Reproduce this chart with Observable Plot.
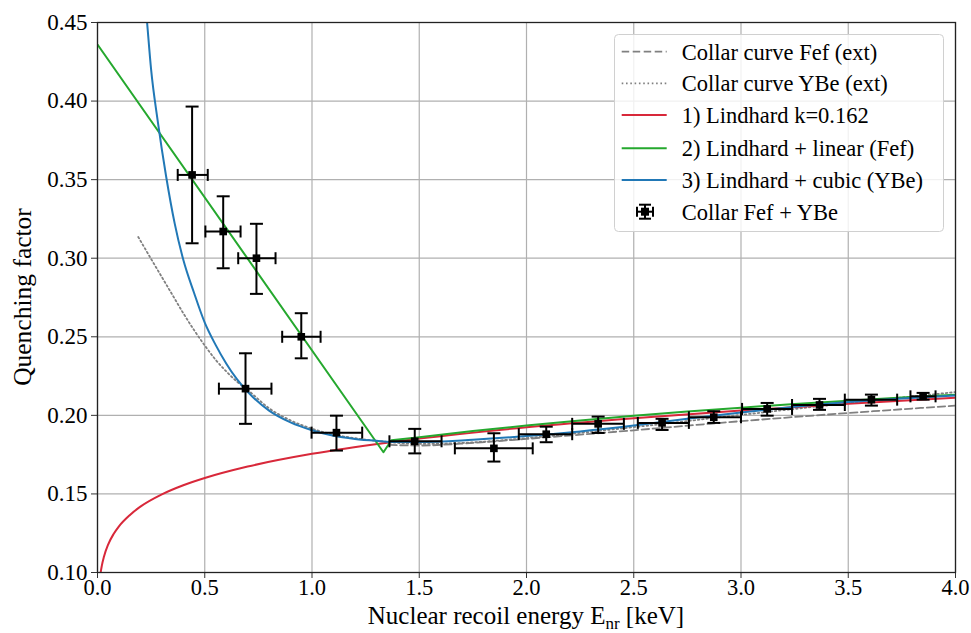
<!DOCTYPE html>
<html><head><meta charset="utf-8">
<script src="https://cdn.jsdelivr.net/npm/d3@7"></script>
<script src="https://cdn.jsdelivr.net/npm/@observablehq/plot@0.6"></script>
<style>
body{margin:0;background:#fff;}
#wrap{position:relative;width:971px;height:633px;}
#legend{position:absolute;left:614px;top:34px;}
#wrap text, #wrap svg{font-family:"Liberation Serif","Times New Roman","DejaVu Serif",serif !important;}
</style></head>
<body><div id="wrap"></div>
<script>
// ---- data ----
const xTicks = [0, 0.5, 1, 1.5, 2, 2.5, 3, 3.5, 4];
const yTicks = [0.10, 0.15, 0.20, 0.25, 0.30, 0.35, 0.40, 0.45];

// 1) Lindhard k=0.162
const lindE = [0.01,0.015,0.02,0.03,0.05,0.075,0.1,0.15,0.2,0.3,0.4,0.5,0.7,1.0,1.35,1.5,2.0,2.5,3.0,3.5,4.0];
const lindQ = [0.0946,0.1002,0.1042,0.1100,0.1179,0.1245,0.1294,0.1365,0.1419,0.1497,0.1555,0.1601,0.1674,0.1755,0.1826,0.1852,0.1924,0.1982,0.2031,0.2074,0.2112];

// 2) Lindhard + linear (Fef)
const linE = [0,1.333,1.37,1.5,1.75,2.0,2.25,2.5,2.75,3.0,3.25,3.5,3.75,4.0];
const linQ = [0.436,0.1765,0.1842,0.186,0.190,0.1935,0.1968,0.1998,0.2025,0.2049,0.2072,0.2093,0.2113,0.2132];

// 3) Lindhard + cubic (YBe)
const cubE = [0.22,0.23,0.25,0.28,0.32,0.36,0.40,0.45,0.50,0.55,0.60,0.65,0.70,0.80,0.90,1.0,1.1,1.2,1.3,1.4,1.5,1.75,2.0,2.25,2.5,2.75,3.0,3.25,3.5,3.75,4.0];
const cubQ = [0.468,0.452,0.420,0.388,0.352,0.322,0.299,0.278,0.259,0.245,0.233,0.223,0.215,0.203,0.1955,0.1905,0.187,0.185,0.1838,0.1830,0.1830,0.1845,0.1868,0.1898,0.1935,0.1978,0.2018,0.2055,0.2085,0.2108,0.2126];

// Collar curve Fef (ext)
const fefE = [1.36,1.5,1.75,2.0,2.5,3.0,3.5,4.0];
const fefQ = [0.1812,0.1808,0.1825,0.185,0.1905,0.1963,0.2015,0.2062];

// Collar curve YBe (ext)
const ybeE = [0.19,0.25,0.3,0.35,0.4,0.45,0.5,0.55,0.6,0.65,0.7,0.8,0.9,1.0,1.1,1.2,1.3,1.4,1.5,1.75,2.0,2.5,3.0,3.5,4.0];
const ybeQ = [0.3135,0.2995,0.288,0.2765,0.265,0.2543,0.2445,0.2355,0.228,0.2215,0.2162,0.2045,0.1968,0.1915,0.1878,0.1855,0.1838,0.1825,0.1818,0.1828,0.1855,0.1925,0.2003,0.2078,0.2148];

// Collar Fef + YBe data
const ptE   = [0.441,0.586,0.741,0.950,0.690,1.114,1.479,1.848,2.092,2.334,2.632,2.873,3.122,3.366,3.608,3.849];
const ptQ   = [0.353,0.317,0.300,0.250,0.217,0.189,0.1835,0.179,0.188,0.1946,0.1952,0.1988,0.2041,0.2066,0.2100,0.2121];
const ptQlo = [0.3095,0.2936,0.2773,0.2363,0.1946,0.1776,0.1758,0.1706,0.1829,0.1888,0.1907,0.1952,0.1998,0.2035,0.2062,0.2100];
const ptQhi = [0.3965,0.3394,0.3219,0.2650,0.2395,0.1998,0.1914,0.1886,0.1928,0.1992,0.1978,0.2026,0.2079,0.2105,0.2132,0.2143];
const ptElo = [0.374,0.503,0.656,0.861,0.566,0.998,1.361,1.666,1.964,2.213,2.519,2.757,3.005,3.238,3.484,3.790];
const ptEhi = [0.514,0.667,0.830,1.040,0.811,1.234,1.604,2.029,2.213,2.454,2.757,3.000,3.238,3.484,3.728,3.907];

const legendLabels = ["Collar curve Fef (ext)","Collar curve YBe (ext)","1) Lindhard k=0.162","2) Lindhard + linear (Fef)","3) Lindhard + cubic (YBe)","Collar Fef + YBe"];

// ---- build tables ----
const zip = (xs, ys) => xs.map((x, i) => ({x, y: ys[i]}));
const lind = zip(lindE, lindQ), lin = zip(linE, linQ), cub = zip(cubE, cubQ), fef = zip(fefE, fefQ), ybe = zip(ybeE, ybeQ);
const pts = ptE.map((e, i) => ({e, q: ptQ[i], qlo: ptQlo[i], qhi: ptQhi[i], elo: ptElo[i], ehi: ptEhi[i]}));

const FONT = '"Liberation Serif", "Times New Roman", "DejaVu Serif", serif';
const RED = "#d8283a", GREEN = "#25a82e", BLUE = "#2178b6", GRAY = "#808080";
const capH = {draw(ctx){ ctx.moveTo(-6.5, 0); ctx.lineTo(6.5, 0); }};
const capV = {draw(ctx){ ctx.moveTo(0, -6); ctx.lineTo(0, 6); }};

const chart = Plot.plot({
  width: 971, height: 633,
  marginLeft: 97, marginRight: 16, marginTop: 22, marginBottom: 61,
  style: {fontFamily: FONT, fontSize: "22px", color: "black", background: "white"},
  x: {domain: [0, 4]},
  y: {domain: [0.10, 0.45]},
  marks: [
    Plot.gridX(xTicks, {stroke: "#b0b0b0", strokeOpacity: 1, strokeWidth: 1.2}),
    Plot.gridY(yTicks, {stroke: "#b0b0b0", strokeOpacity: 1, strokeWidth: 1.2}),
    Plot.line(fef, {x: "x", y: "y", stroke: GRAY, strokeWidth: 1.8, strokeDasharray: "7.5,3.5", curve: "monotone-x", clip: true}),
    Plot.line(ybe, {x: "x", y: "y", stroke: GRAY, strokeWidth: 1.8, strokeDasharray: "1.6,2.7", curve: "monotone-x", clip: true}),
    Plot.line(lind, {x: "x", y: "y", stroke: RED, strokeWidth: 2, curve: "monotone-x", clip: true}),
    Plot.line(lin, {x: "x", y: "y", stroke: GREEN, strokeWidth: 2, curve: "linear", clip: true}),
    Plot.line(cub, {x: "x", y: "y", stroke: BLUE, strokeWidth: 2, curve: "monotone-x", clip: true}),
    Plot.ruleX(pts, {x: "e", y1: "qlo", y2: "qhi", stroke: "black", strokeWidth: 2}),
    Plot.ruleY(pts, {y: "q", x1: "elo", x2: "ehi", stroke: "black", strokeWidth: 2}),
    Plot.dot(pts, {x: "e", y: "qlo", symbol: capH, r: 3, stroke: "black", fill: "none", strokeWidth: 2}),
    Plot.dot(pts, {x: "e", y: "qhi", symbol: capH, r: 3, stroke: "black", fill: "none", strokeWidth: 2}),
    Plot.dot(pts, {x: "elo", y: "q", symbol: capV, r: 3, stroke: "black", fill: "none", strokeWidth: 2}),
    Plot.dot(pts, {x: "ehi", y: "q", symbol: capV, r: 3, stroke: "black", fill: "none", strokeWidth: 2}),
    Plot.dot(pts, {x: "e", y: "q", symbol: "square", r: 4.3, fill: "black", stroke: "none"}),
    Plot.axisX({ticks: xTicks, tickFormat: d3.format(".1f"), label: null, tickSize: 6, tickPadding: 1, stroke: "#333", fontFamily: FONT, fontSize: 22.5}),
    Plot.axisY({ticks: yTicks, tickFormat: d3.format(".2f"), label: null, tickSize: 6, tickPadding: 4, stroke: "#333", fontFamily: FONT, fontSize: 23}),
    Plot.frame({stroke: "#222", strokeWidth: 1.3})
  ]
});

const wrap = document.getElementById("wrap");
wrap.appendChild(chart);

// axis titles
const svg = d3.select(chart);
const xl = svg.append("text").attr("x", 526).attr("y", 624).attr("text-anchor", "middle")
  .style("font-family", FONT).attr("font-size", 25).attr("fill", "black");
xl.append("tspan").text("Nuclear recoil energy E");
xl.append("tspan").attr("font-size", 17).attr("dy", 5).text("nr");
xl.append("tspan").attr("dy", -5).text(" [keV]");
svg.append("text").attr("transform", "translate(31,297) rotate(-90)").attr("text-anchor", "middle")
  .style("font-family", FONT).attr("font-size", 25.5).attr("fill", "black")
  .text("Quenching factor");

// legend
const lg = d3.select(wrap).append("svg").attr("id", "legend").attr("width", 330).attr("height", 199);
lg.append("rect").attr("x", 0.5).attr("y", 0.5).attr("width", 329).attr("height", 197).attr("rx", 4)
  .attr("fill", "white").attr("fill-opacity", 0.82).attr("stroke", "#d0d0d0");
const rowY = [17.7, 49.3, 81, 114.3, 146, 177.7];
const styles = [
  {stroke: GRAY, dash: "7.5,3.5", w: 1.8},
  {stroke: GRAY, dash: "1.6,2.7", w: 1.8},
  {stroke: RED, dash: null, w: 2},
  {stroke: GREEN, dash: null, w: 2},
  {stroke: BLUE, dash: null, w: 2}
];
styles.forEach((s, i) => {
  lg.append("line").attr("x1", 7.7).attr("x2", 52.7).attr("y1", rowY[i]).attr("y2", rowY[i])
    .attr("stroke", s.stroke).attr("stroke-width", s.w).attr("stroke-dasharray", s.dash);
});
const cx = 31, cy = rowY[5];
const eb = lg.append("g").attr("stroke", "black").attr("stroke-width", 2);
eb.append("line").attr("x1", cx).attr("x2", cx).attr("y1", cy - 7).attr("y2", cy + 7);
eb.append("line").attr("x1", cx - 8).attr("x2", cx + 8).attr("y1", cy).attr("y2", cy);
eb.append("line").attr("x1", cx - 6).attr("x2", cx + 6).attr("y1", cy - 7).attr("y2", cy - 7);
eb.append("line").attr("x1", cx - 6).attr("x2", cx + 6).attr("y1", cy + 7).attr("y2", cy + 7);
eb.append("line").attr("x1", cx - 8).attr("x2", cx - 8).attr("y1", cy - 5).attr("y2", cy + 5);
eb.append("line").attr("x1", cx + 8).attr("x2", cx + 8).attr("y1", cy - 5).attr("y2", cy + 5);
lg.append("rect").attr("x", cx - 4).attr("y", cy - 4).attr("width", 8).attr("height", 8).attr("fill", "black");
legendLabels.forEach((t, i) => {
  lg.append("text").attr("x", 67.7).attr("y", rowY[i]).attr("dy", "0.35em")
    .style("font-family", FONT).attr("font-size", 22.5).attr("fill", "black").text(t);
});
</script></body></html>
